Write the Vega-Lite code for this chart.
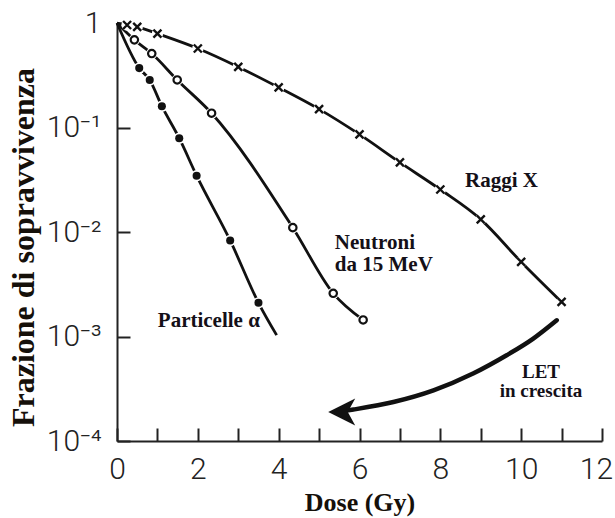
{
  "$schema": "https://vega.github.io/schema/vega-lite/v6.json",
  "width": 485,
  "height": 418,
  "autosize": {"type": "none"},
  "padding": {"left": 117, "top": 23, "right": 13, "bottom": 77},
  "background": "white",
  "config": {
    "view": {"stroke": null},
    "axis": {
      "grid": false,
      "domainColor": "#222",
      "domainWidth": 2,
      "tickColor": "#222",
      "tickWidth": 2,
      "tickSize": -13,
      "labelFont": "Roboto",
      "labelFontWeight": 300,
      "labelFontSize": 30,
      "labelColor": "#222",
      "labelOverlap": false,
      "labelFlush": false,
      "titleFont": "Liberation Serif",
      "titleFontWeight": "bold",
      "titleColor": "#15100a"
    }
  },
  "datasets": {
    "survival": [
      {"curve": "X", "dose": 0, "s": 1, "marker": false},
      {"curve": "X", "dose": 0.25, "s": 0.957, "marker": true},
      {"curve": "X", "dose": 0.5, "s": 0.92, "marker": true},
      {"curve": "X", "dose": 1, "s": 0.79, "marker": true},
      {"curve": "X", "dose": 2, "s": 0.57, "marker": true},
      {"curve": "X", "dose": 3, "s": 0.38, "marker": true},
      {"curve": "X", "dose": 4, "s": 0.242, "marker": true},
      {"curve": "X", "dose": 5, "s": 0.15, "marker": true},
      {"curve": "X", "dose": 6, "s": 0.0859, "marker": true},
      {"curve": "X", "dose": 7, "s": 0.0463, "marker": true},
      {"curve": "X", "dose": 8, "s": 0.0255, "marker": true},
      {"curve": "X", "dose": 9, "s": 0.0132, "marker": true},
      {"curve": "X", "dose": 10, "s": 0.00517, "marker": true},
      {"curve": "X", "dose": 11, "s": 0.00214, "marker": true},
      {"curve": "N", "dose": 0, "s": 1, "marker": false},
      {"curve": "N", "dose": 0.43, "s": 0.69, "marker": true},
      {"curve": "N", "dose": 0.86, "s": 0.51, "marker": true},
      {"curve": "N", "dose": 1.49, "s": 0.285, "marker": true},
      {"curve": "N", "dose": 2.34, "s": 0.137, "marker": true},
      {"curve": "N", "dose": 4.35, "s": 0.011, "marker": true},
      {"curve": "N", "dose": 5.35, "s": 0.00259, "marker": true},
      {"curve": "N", "dose": 6.09, "s": 0.00144, "marker": true},
      {"curve": "A", "dose": 0, "s": 1, "marker": false},
      {"curve": "A", "dose": 0.55, "s": 0.37, "marker": true},
      {"curve": "A", "dose": 0.81, "s": 0.285, "marker": true},
      {"curve": "A", "dose": 1.11, "s": 0.16, "marker": true},
      {"curve": "A", "dose": 1.54, "s": 0.079, "marker": true},
      {"curve": "A", "dose": 1.97, "s": 0.0346, "marker": true},
      {"curve": "A", "dose": 2.8, "s": 0.0083, "marker": true},
      {"curve": "A", "dose": 3.5, "s": 0.0021, "marker": true},
      {"curve": "A", "dose": 3.95, "s": 0.00103, "marker": false}
    ],
    "arrow": [
      {"dose": 10.88, "s": 0.00143},
      {"dose": 10.3, "s": 0.000955},
      {"dose": 9.64, "s": 0.000661},
      {"dose": 8.81, "s": 0.000442},
      {"dose": 7.83, "s": 0.000305},
      {"dose": 6.84, "s": 0.000236},
      {"dose": 5.85, "s": 0.0002},
      {"dose": 5.56, "s": 0.000192}
    ],
    "arrowhead": [
      {"dose": 5.56, "s": 0.000189}
    ],
    "notes": [
      {"text": "Raggi X", "dose": 8.61, "s": 0.0307, "anchor": "left"},
      {"text": "Neutroni", "dose": 5.39, "s": 0.00781, "anchor": "left"},
      {"text": "da 15 MeV", "dose": 5.39, "s": 0.00481, "anchor": "left"},
      {"text": "Particelle α", "dose": 1.01, "s": 0.0014, "anchor": "left"},
      {"text": "LET\nin crescita", "dose": 10.49, "s": 0.000459, "anchor": "center"}
    ]
  },
  "encoding": {
    "x": {
      "field": "dose",
      "type": "quantitative",
      "scale": {"domain": [0, 12], "nice": false, "zero": false},
      "axis": {
        "title": "Dose (Gy)",
        "titleFontSize": 26,
        "titlePadding": 5,
        "values": [0, 1, 2, 3, 4, 5, 6, 7, 8, 9, 10, 11, 12],
        "labelExpr": "datum.value % 2 === 0 ? datum.label : ''",
        "labelPadding": 26,
        "labelOffset": {"condition": {"test": "datum.value === 12", "value": -6}, "value": 0}
      }
    },
    "y": {
      "field": "s",
      "type": "quantitative",
      "scale": {"type": "log", "domain": [0.0001, 1], "nice": false},
      "axis": {
        "title": "Frazione di sopravvivenza",
        "titleFontSize": 32,
        "titlePadding": 6,
        "titleY": 224,
        "values": [0.0001, 0.001, 0.01, 0.1, 1],
        "labelExpr": "datum.value >= 0.5 ? '1' : '10' + (datum.value > 0.05 ? '⁻¹' : datum.value > 0.005 ? '⁻²' : datum.value > 0.0005 ? '⁻³' : '⁻⁴')",
        "labelPadding": 29,
        "labelBaseline": "middle"
      }
    }
  },
  "layer": [
    {
      "data": {"name": "survival"},
      "mark": {"type": "line", "color": "#111", "strokeWidth": 2.8, "interpolate": "monotone"},
      "encoding": {"detail": {"field": "curve"}}
    },
    {
      "data": {"name": "survival"},
      "transform": [{"filter": "datum.marker"}],
      "mark": {"type": "point", "shape": "circle", "filled": true, "color": "white", "opacity": 1, "size": 130}
    },
    {
      "data": {"name": "survival"},
      "transform": [{"filter": "datum.marker && datum.curve === 'X'"}],
      "mark": {"type": "point", "shape": "M-1,-1L1,1M1,-1L-1,1", "filled": false, "color": "#111", "opacity": 1, "strokeWidth": 2.4, "size": 64}
    },
    {
      "data": {"name": "survival"},
      "transform": [{"filter": "datum.marker && datum.curve === 'N'"}],
      "mark": {"type": "point", "shape": "circle", "filled": false, "fill": "white", "fillOpacity": 1, "stroke": "#111", "opacity": 1, "strokeWidth": 2.2, "size": 55}
    },
    {
      "data": {"name": "survival"},
      "transform": [{"filter": "datum.marker && datum.curve === 'A'"}],
      "mark": {"type": "point", "shape": "circle", "filled": true, "color": "#111", "opacity": 1, "size": 65}
    },
    {
      "data": {"name": "arrow"},
      "mark": {"type": "line", "color": "#111", "strokeWidth": 4.5, "interpolate": "monotone", "strokeCap": "round"},
      "encoding": {}
    },
    {
      "data": {"name": "arrowhead"},
      "mark": {"type": "point", "shape": "M-1,0L1,-1L0.45,0L1,1Z", "filled": true, "color": "#111", "opacity": 1, "size": 729}
    },
    {
      "data": {"name": "notes"},
      "transform": [{"filter": "datum.anchor === 'left'"}],
      "mark": {"type": "text", "align": "left", "baseline": "middle", "font": "Liberation Serif", "fontWeight": "bold", "fontSize": 21, "color": "#141018"},
      "encoding": {"text": {"field": "text"}}
    },
    {
      "data": {"name": "notes"},
      "transform": [{"filter": "datum.anchor === 'center'"}],
      "mark": {"type": "text", "align": "center", "baseline": "middle", "font": "Liberation Serif", "fontWeight": "bold", "fontSize": 19, "lineBreak": "\n", "lineHeight": 19, "color": "#141018"},
      "encoding": {"text": {"field": "text"}}
    }
  ]
}
